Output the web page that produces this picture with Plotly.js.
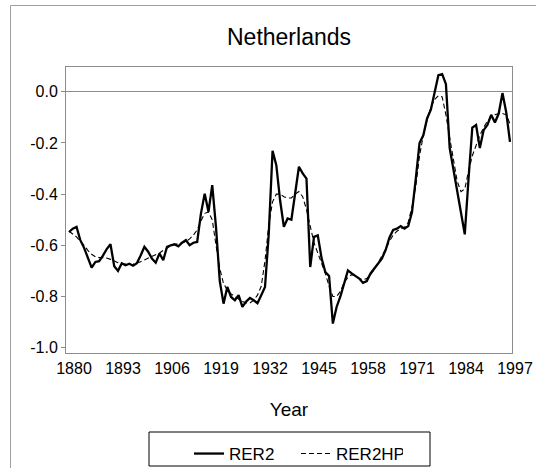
<!DOCTYPE html>
<html>
<head>
<meta charset="utf-8">
<script src="https://cdn.plot.ly/plotly-3.0.1.min.js"></script>
<style>
  html, body { margin: 0; padding: 0; background: #ffffff; }
  #chart { width: 536px; height: 468px; }
</style>
</head>
<body>
<div id="chart"></div>
<script>
// ---- data ----
const startYear = 1880;
const rer2 = [
  -0.548, -0.535, -0.528, -0.580, -0.610, -0.645, -0.687, -0.665, -0.662, -0.640,
  -0.615, -0.596, -0.682, -0.700, -0.670, -0.678, -0.672, -0.680, -0.670, -0.640,
  -0.606, -0.625, -0.652, -0.668, -0.632, -0.658, -0.606, -0.600, -0.596, -0.604,
  -0.590, -0.580, -0.600, -0.590, -0.587, -0.476, -0.398, -0.469, -0.365, -0.530,
  -0.740, -0.828, -0.763, -0.802, -0.815, -0.795, -0.841, -0.820, -0.806, -0.815,
  -0.826, -0.795, -0.763, -0.554, -0.231, -0.287, -0.424, -0.528, -0.495, -0.500,
  -0.400, -0.293, -0.319, -0.339, -0.685, -0.567, -0.561, -0.650, -0.705, -0.720,
  -0.906, -0.841, -0.800, -0.750, -0.698, -0.710, -0.720, -0.730, -0.747, -0.740,
  -0.710, -0.690, -0.670, -0.652, -0.619, -0.570, -0.540, -0.535, -0.525, -0.535,
  -0.525, -0.470, -0.340, -0.200, -0.170, -0.104, -0.070, 0.000, 0.065, 0.069,
  0.030, -0.220, -0.306, -0.375, -0.470, -0.557, -0.340, -0.140, -0.130, -0.220,
  -0.150, -0.130, -0.090, -0.120, -0.085, -0.005, -0.080, -0.196
];
const rer2hp = [
  -0.545, -0.555, -0.567, -0.585, -0.600, -0.620, -0.635, -0.645, -0.648, -0.648,
  -0.650, -0.655, -0.663, -0.668, -0.672, -0.674, -0.675, -0.674, -0.670, -0.664,
  -0.657, -0.650, -0.644, -0.638, -0.630, -0.620, -0.610, -0.602, -0.597, -0.594,
  -0.590, -0.585, -0.575, -0.560, -0.540, -0.505, -0.475, -0.470, -0.500, -0.600,
  -0.690, -0.750, -0.775, -0.790, -0.800, -0.810, -0.820, -0.825, -0.825, -0.815,
  -0.795, -0.760, -0.660, -0.520, -0.430, -0.400, -0.400, -0.410, -0.415, -0.415,
  -0.400, -0.390, -0.410, -0.460, -0.530, -0.590, -0.630, -0.670, -0.710, -0.760,
  -0.800, -0.800, -0.780, -0.745, -0.725, -0.715, -0.720, -0.730, -0.735, -0.730,
  -0.715, -0.695, -0.670, -0.645, -0.615, -0.585, -0.560, -0.545, -0.535, -0.530,
  -0.510, -0.450, -0.370, -0.250, -0.170, -0.110, -0.060, -0.030, -0.015, -0.020,
  -0.090, -0.180, -0.270, -0.350, -0.390, -0.380, -0.310, -0.250, -0.210, -0.170,
  -0.140, -0.115, -0.100, -0.090, -0.085, -0.085, -0.090, -0.125
];
const years = rer2.map((_, i) => startYear + i);
const xTickYears = [1880, 1893, 1906, 1919, 1932, 1945, 1958, 1971, 1984, 1997];
const yTickVals = [0.0, -0.2, -0.4, -0.6, -0.8, -1.0];
const yTickText = ["0.0", "-0.2", "-0.4", "-0.6", "-0.8", "-1.0"];
const seriesNames = ["RER2", "RER2HP"];

const FONT = "Arial, 'Liberation Sans', sans-serif";
const W = 536, H = 468;
const PL = 66, PR = 512, PT = 67, PB = 353;
const px2x = p => (p - PL) / (PR - PL);
const py2y = p => (PB - p) / (PB - PT);

const traces = [
  { x: years, y: rer2, name: seriesNames[0], type: "scatter", mode: "lines",
    line: { color: "#000000", width: 2.3 } },
  { x: years, y: rer2hp, name: seriesNames[1], type: "scatter", mode: "lines",
    line: { color: "#000000", width: 1.1, dash: "5px,3px" } }
];

const layout = {
  width: W, height: H,
  margin: { l: PL, r: W - PR, t: PT, b: H - PB, autoexpand: false },
  paper_bgcolor: "#ffffff", plot_bgcolor: "#ffffff",
  font: { family: FONT, color: "#000000", size: 16 },
  showlegend: true,
  title: { text: "Netherlands", font: { family: FONT, size: 23, color: "#000000" },
           x: 0.5, xref: "paper", xanchor: "center", y: 1 - 37 / H, yref: "container", yanchor: "middle" },
  xaxis: {
    range: [1879.2, 1997.53],
    tickvals: xTickYears, ticktext: xTickYears.map(String),
    ticks: "", showgrid: false, zeroline: false,
    showline: true, linecolor: "#8c8c8c", linewidth: 1, mirror: true,
    tickfont: { family: FONT, size: 16, color: "#000000" },
    ticklabelshift: 5, ticklabelstandoff: 1,
    automargin: false,
    title: { text: "Year", font: { family: FONT, size: 19, color: "#000000" }, standoff: 26 }
  },
  yaxis: {
    range: [-1.021, 0.097],
    tickvals: yTickVals, ticktext: yTickText,
    ticks: "outside", ticklen: 4, tickcolor: "#8c8c8c",
    showgrid: false, automargin: false,
    zeroline: true, zerolinecolor: "#8c8c8c", zerolinewidth: 1,
    showline: true, linecolor: "#8c8c8c", linewidth: 1, mirror: true,
    tickfont: { family: FONT, size: 16, color: "#000000" }
  },
  legend: {
    orientation: "h", x: 189 / W, xanchor: "left", xref: "container",
    y: (H - 436) / H, yanchor: "top", yref: "container",
    bgcolor: "rgba(0,0,0,0)", borderwidth: 0,
    font: { family: FONT, size: 17, color: "#000000" },
    traceorder: "normal", entrywidth: 62
  },
  shapes: [
    { type: "rect", xref: "paper", yref: "paper",
      x0: px2x(149), x1: px2x(430), y0: py2y(466), y1: py2y(432),
      line: { color: "#000000", width: 1 }, fillcolor: "rgba(0,0,0,0)" },
    { type: "line", xref: "paper", yref: "paper",
      x0: px2x(10.5), x1: px2x(10.5), y0: py2y(472), y1: py2y(5.5),
      line: { color: "#a0a0a0", width: 1 } },
    { type: "line", xref: "paper", yref: "paper",
      x0: px2x(10.5), x1: px2x(540), y0: py2y(5.5), y1: py2y(5.5),
      line: { color: "#a0a0a0", width: 1 } }
  ]
};

Plotly.newPlot("chart", traces, layout, { staticPlot: true, displayModeBar: false });
</script>
</body>
</html>
